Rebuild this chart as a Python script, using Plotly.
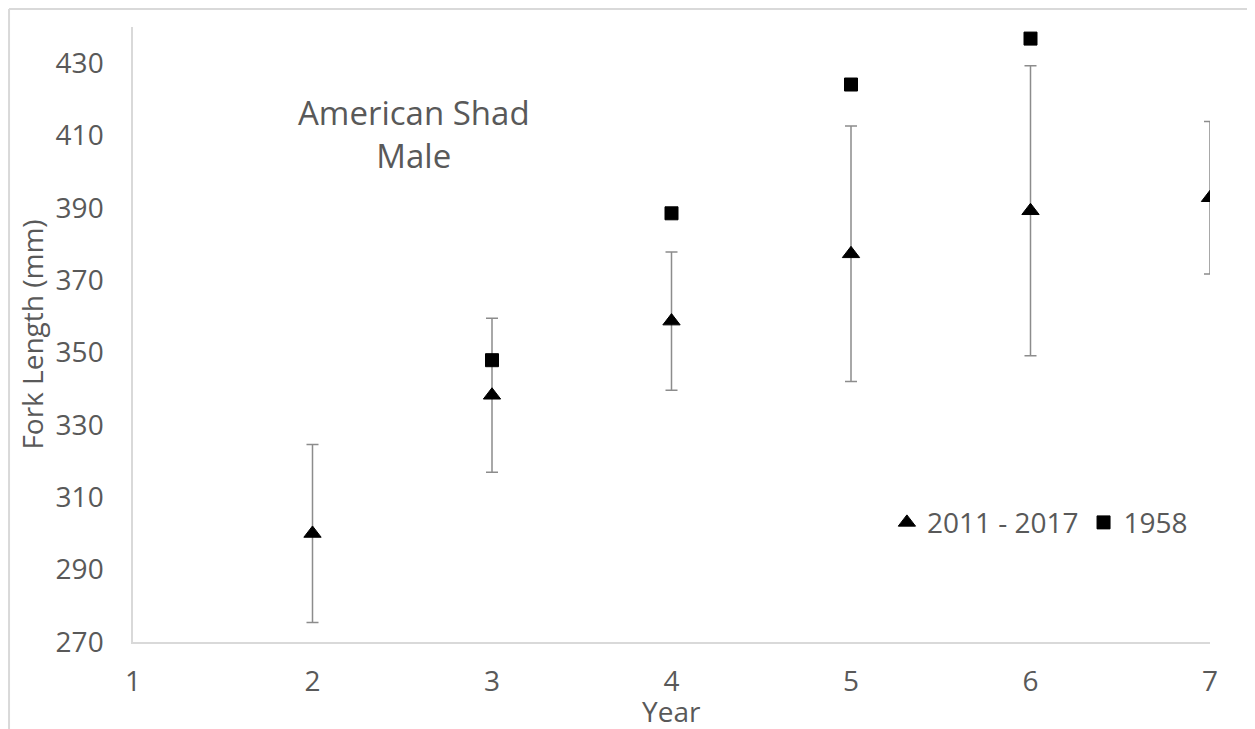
import plotly.graph_objects as go

# ---- data ----
years_recent = [2, 3, 4, 5, 6, 7]
fl_recent = [300.0, 338.2, 358.7, 377.3, 389.2, 392.8]
err_recent = [24.6, 21.3, 19.1, 35.3, 40.1, 21.1]

years_1958 = [3, 4, 5, 6]
fl_1958 = [347.9, 388.5, 424.1, 436.8]

x_ticks = [1, 2, 3, 4, 5, 6, 7]
y_ticks = [270, 290, 310, 330, 350, 370, 390, 410, 430]

series_names = ["2011 - 2017", "1958"]
chart_title = "American Shad<br>Male"
x_title = "Year"
y_title = "Fork Length (mm)"

FONT = "Open Sans"
TXT = "#595959"
LINE = "#d9d9d9"

fig = go.Figure()
fig.add_trace(go.Scatter(
    x=years_recent, y=fl_recent, mode="markers", name=series_names[0],
    marker=dict(symbol="triangle-up", size=15, color="black",
                line=dict(color="black", width=1)),
    error_y=dict(type="data", array=err_recent, visible=True,
                 color="#8c8c8c", thickness=1.5, width=6),
))
fig.add_trace(go.Scatter(
    x=years_1958, y=fl_1958, mode="markers", name=series_names[1],
    marker=dict(symbol="square", size=13, color="black",
                line=dict(color="black", width=1)),
))

# figure is placed at (8, 8) in the page by the default body margin
fig.update_layout(
    width=1247, height=721, autosize=False,
    margin=dict(l=125, r=45, t=19, b=87),
    paper_bgcolor="white", plot_bgcolor="white",
    font=dict(family=FONT, color=TXT, size=28),
    showlegend=True,
    legend=dict(orientation="h", x=0.70, y=0.194, xanchor="left",
                yanchor="middle", font=dict(size=28, color=TXT),
                bgcolor="rgba(0,0,0,0)", borderwidth=0),
    xaxis=dict(range=[1, 7], tickmode="array", tickvals=x_ticks,
               ticktext=[str(v) for v in x_ticks],
               showline=True, linecolor=LINE, linewidth=1.5,
               showgrid=False, zeroline=False, ticks="",
               tickfont=dict(size=28, color=TXT), ticklabelstandoff=14),
    yaxis=dict(range=[270, 440], tickmode="array", tickvals=y_ticks,
               ticktext=[str(v) for v in y_ticks],
               showline=True, linecolor=LINE, linewidth=1.5,
               showgrid=False, zeroline=False, ticks="",
               tickfont=dict(size=28, color=TXT), ticklabelstandoff=22,
               title=dict(text=y_title, font=dict(size=28, color=TXT),
                          standoff=4)),
    annotations=[
        dict(text=chart_title, xref="paper", yref="paper",
             x=0.261, y=0.826, xanchor="center", yanchor="middle",
             showarrow=False, align="center",
             font=dict(size=33, color=TXT, family=FONT)),
        dict(text=x_title, xref="paper", yref="paper",
             x=0.5, y=-0.112, xanchor="center", yanchor="middle",
             showarrow=False, font=dict(size=28, color=TXT, family=FONT)),
    ],
    shapes=[
        dict(type="line", xref="paper", yref="paper", x0=-0.1151, x1=1.1,
             y0=1.0293, y1=1.0293, line=dict(color=LINE, width=2)),
        dict(type="line", xref="paper", yref="paper", x0=-0.1151, x1=-0.1151,
             y0=-0.2, y1=1.0293, line=dict(color=LINE, width=2)),
    ],
)

fig.write_html("out.html")
